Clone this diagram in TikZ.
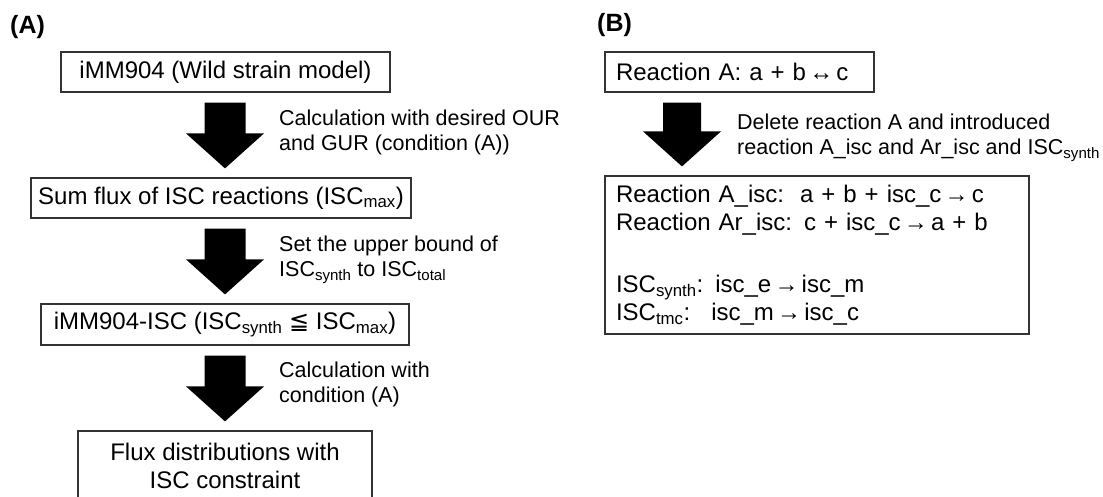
\documentclass[tikz,border=0pt]{standalone}
\usepackage{fontspec}
\setmainfont{Liberation Sans}
\newfontfamily\dejavu{DejaVu Sans}
\usetikzlibrary{calc}
\newlength\synthw
\newcommand\rarr{\makebox[0.6em]{→}}
\newcommand\lrarr{\makebox[0.6em]{↔}}
\newcommand\blockarrow[5]{% #1 from node, #2 to node, #3 x centre, #4 shaft half width, #5 head half width
  \fill let \p1=(#1.south), \p2=(#2.north) in
    ({#3pt-#4pt},\y1-10pt) -- ({#3pt+#4pt},\y1-10pt) -- ({#3pt+#4pt},\y2+44pt) --
    ({#3pt+#5pt},\y2+44pt) -- (#3pt,\y2+9pt) -- ({#3pt-#5pt},\y2+44pt) --
    ({#3pt-#4pt},\y2+44pt) -- cycle;}
\begin{document}
\begin{tikzpicture}[x=1pt,y=-1pt,
  box/.style={draw=black!80, line width=1.2pt, inner sep=0pt, align=center,
    font=\fontsize{24}{28}\selectfont},
  lbox/.style={box, align=left, inner xsep=11pt},
  note/.style={anchor=west, align=left, inner sep=0pt, font=\fontsize{21.5}{25}\selectfont},
  lbl/.style={anchor=west, inner sep=0pt, font=\fontsize{25}{28}\selectfont\bfseries}]
\useasboundingbox (0,0) rectangle (1103,497);

% panel labels
\node[lbl] (la) at (10,27) {(A)};
\node[lbl] (lb) at (597,25) {(B)};

% panel A boxes
\node[box, minimum width=329pt, minimum height=40pt] (b1) at (225.5,72) {iMM904 (Wild strain model)};
\node[box, minimum width=380pt, minimum height=40pt] (b2) at (221,198) {Sum flux of ISC reactions (ISC\textsubscript{max})};
\node[box, minimum width=368pt, minimum height=41pt] (b3) at (225,324.5) {iMM904-ISC (ISC\textsubscript{synth} {\dejavu ≦} ISC\textsubscript{max})};
\node[box, minimum width=294pt, minimum height=70pt] (b4) at (225,466) {Flux distributions with\\ISC constraint};

% panel A arrows
\blockarrow{b1}{b2}{225}{20.5}{39}
\blockarrow{b2}{b3}{225}{20.5}{39}
\blockarrow{b3}{b4}{225}{20.5}{39}

% panel A notes
\node[note] (n1) at (279,132) {Calculation with desired OUR\\and GUR (condition (A))};
\node[note] (n2) at (279,260) {Set the upper bound of\\ISC\textsubscript{synth} to ISC\textsubscript{total}};
\node[note] (n3) at (279,384.5) {Calculation with\\condition (A)};

% panel B
\node[lbox, minimum width=269pt, minimum height=40pt, text width=247pt] (b5) at (739.5,72) {Reaction A: a + b \lrarr{} c};
\node[lbox, minimum width=424pt, minimum height=158pt, text width=402pt] (b6) at (817,255)
  {Reaction A\_isc:\ \ a + b + isc\_c \rarr{} c\\
   Reaction Ar\_isc: c + isc\_c \rarr{} a + b\\[34pt]
   ISC\textsubscript{synth}: isc\_e \rarr{} isc\_m\\
   \settowidth{\synthw}{ISC\textsubscript{synth}:\ }\makebox[\synthw][l]{ISC\textsubscript{tmc}:}isc\_m \rarr{} isc\_c};
\blockarrow{b5}{b6}{682}{19}{39}
\node[note] (n4) at (737,138) {Delete reaction A and introduced\\reaction A\_isc and Ar\_isc and ISC\textsubscript{synth}};
\end{tikzpicture}
\end{document}
